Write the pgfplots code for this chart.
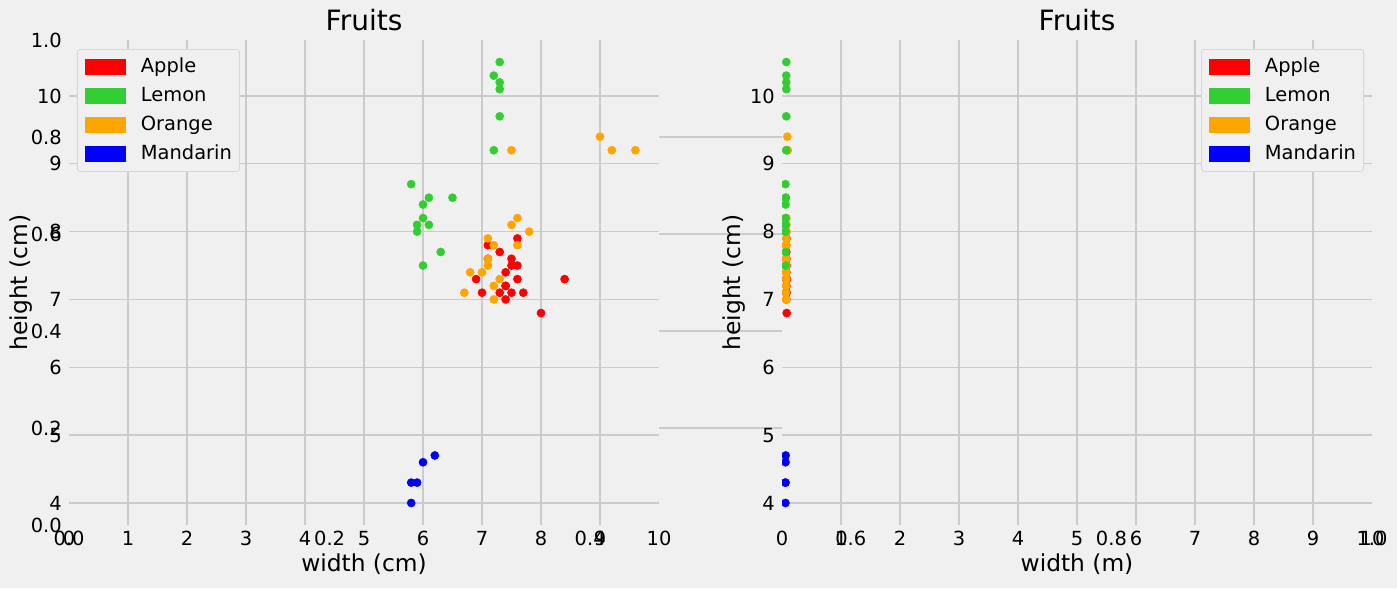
\documentclass[border=0pt]{standalone}
\usepackage{fontspec}
\setmainfont{DejaVu Sans}
\usepackage{pgfplots}
\usepackage{pgfplotstable}
\pgfplotsset{compat=1.18}

\definecolor{bg}{HTML}{F0F0F0}
\definecolor{gridc}{HTML}{CBCBCB}
\definecolor{legedge}{HTML}{D6D6D6}
\definecolor{lemonc}{HTML}{32CD32}
\definecolor{orangec}{HTML}{FFA500}

% width (cm), height (cm)
\pgfplotstableread{
w h
8.4 7.3
8.0 6.8
7.4 7.2
7.1 7.8
7.4 7.0
6.9 7.3
7.1 7.6
7.0 7.1
7.3 7.7
7.6 7.3
7.7 7.1
7.6 7.5
7.5 7.6
7.5 7.1
7.4 7.2
7.5 7.5
7.4 7.4
7.3 7.1
7.6 7.9
}\apple
\pgfplotstableread{
w h
6.2 4.7
6.0 4.6
5.8 4.3
5.9 4.3
5.8 4.0
}\mandarin
\pgfplotstableread{
w h
9.0 9.4
9.2 9.2
9.6 9.2
7.5 9.2
6.7 7.1
7.0 7.4
7.1 7.5
7.8 8.0
7.2 7.0
7.5 8.1
7.6 7.8
7.1 7.9
7.1 7.6
7.3 7.3
7.2 7.8
6.8 7.4
7.1 7.5
7.6 8.2
7.2 7.2
}\orange
\pgfplotstableread{
w h
7.2 10.3
7.3 10.5
7.2 9.2
7.3 10.2
7.3 9.7
7.3 10.1
5.8 8.7
6.0 8.2
6.0 7.5
5.9 8.0
6.0 8.4
6.1 8.5
6.3 7.7
5.9 8.1
6.5 8.5
6.1 8.1
}\lemon

\pgfplotsset{
  base/.style={
    scale only axis, height=349.2pt,
    axis line style={draw=none}, major tick length=0pt,
    grid=major, major grid style={line width=1pt, draw=gridc},
    axis background/.style={fill=bg},
    tick label style={font=\fontsize{14}{16.8}\selectfont},
    xticklabel style={anchor=north, inner sep=0pt, yshift=-4.3pt},
    yticklabel style={anchor=east, inner sep=0pt, xshift=-5pt},
    /pgf/number format/assume math mode=true,
    every axis title/.style={at={(axis description cs:0.5,1)}, anchor=base,
      inner sep=0pt, yshift=6.5pt, font=\fontsize{20.16}{24}\selectfont},
    every axis x label/.style={at={(axis description cs:0.5,0)}, anchor=base,
      inner sep=0pt, yshift=-33.8pt, font=\fontsize{16.8}{20}\selectfont},
    every axis y label/.style={at={(axis description cs:0,0.5)}, xshift=-29.8pt,
      rotate=90, anchor=base, inner sep=0pt, font=\fontsize{16.8}{20}\selectfont},
  },
  fruit/.style={
    base, width=424.8pt,
    xmin=0, xmax=10, ymin=3.675, ymax=10.825,
    xtick={1,...,9}, extra x ticks={0,10}, extra x tick style={grid=none},
    ytick={4,...,10},
    clip marker paths=true,
    title={Fruits}, ylabel={height (cm)},
    legend image code/.code={\fill[#1, sharp corners] (0pt,-5.4pt) rectangle (28.8pt,5.4pt);},
    legend cell align=left,
    legend style={fill=bg, draw=legedge, line width=0.6pt, rounded corners=2pt,
      inner xsep=5.5pt, inner ysep=6.4pt, row sep=8.48pt, column sep=10.8pt,
      font=\fontsize{14}{16.8}\selectfont,
      nodes={inner sep=0pt, text height=10.2pt, text depth=2.2pt}},
  },
  dot/.style={only marks, mark=*, mark size=2.9pt, forget plot},
}

\begin{document}
\begin{tikzpicture}
\fill[bg] (0,0) rectangle (1005.84pt,423.36pt);
\useasboundingbox (0,0) rectangle (1005.84pt,423.36pt);

% figure-wide axis behind the two subplots
\begin{axis}[base, at={(49.68pt,45.36pt)}, anchor=south west, width=938.16pt,
  xmin=0, xmax=1, ymin=0, ymax=1,
  xtick={0.2,0.4,0.6,0.8}, ytick={0.2,0.4,0.6,0.8},
  extra x ticks={0,1}, extra y ticks={0,1},
  extra x tick style={grid=none}, extra y tick style={grid=none},
  /pgf/number format/fixed, /pgf/number format/fixed zerofill,
  /pgf/number format/precision=1]
\end{axis}

\begin{axis}[fruit, at={(49.68pt,45.36pt)}, anchor=south west,
  xlabel={width (cm)},
  legend style={at={(axis description cs:0,1)}, anchor=north west,
    xshift=5.76pt, yshift=-6.48pt}]
\addlegendimage{red}\addlegendentry{Apple}
\addlegendimage{lemonc}\addlegendentry{Lemon}
\addlegendimage{orangec}\addlegendentry{Orange}
\addlegendimage{blue}\addlegendentry{Mandarin}
\addplot[dot, red] table[x=w, y=h] {\apple};
\addplot[dot, blue] table[x=w, y=h] {\mandarin};
\addplot[dot, orangec] table[x=w, y=h] {\orange};
\addplot[dot, lemonc] table[x=w, y=h] {\lemon};
\end{axis}

\begin{axis}[fruit, at={(563.04pt,45.36pt)}, anchor=south west,
  xlabel={width (m)},
  legend style={at={(axis description cs:1,1)}, anchor=north east,
    xshift=-5.76pt, yshift=-6.48pt}]
\addlegendimage{red}\addlegendentry{Apple}
\addlegendimage{lemonc}\addlegendentry{Lemon}
\addlegendimage{orangec}\addlegendentry{Orange}
\addlegendimage{blue}\addlegendentry{Mandarin}
\addplot[dot, red] table[x expr=\thisrow{w}/100, y=h] {\apple};
\addplot[dot, blue] table[x expr=\thisrow{w}/100, y=h] {\mandarin};
\addplot[dot, orangec] table[x expr=\thisrow{w}/100, y=h] {\orange};
\addplot[dot, lemonc] table[x expr=\thisrow{w}/100, y=h] {\lemon};
\end{axis}
\end{tikzpicture}
\end{document}
